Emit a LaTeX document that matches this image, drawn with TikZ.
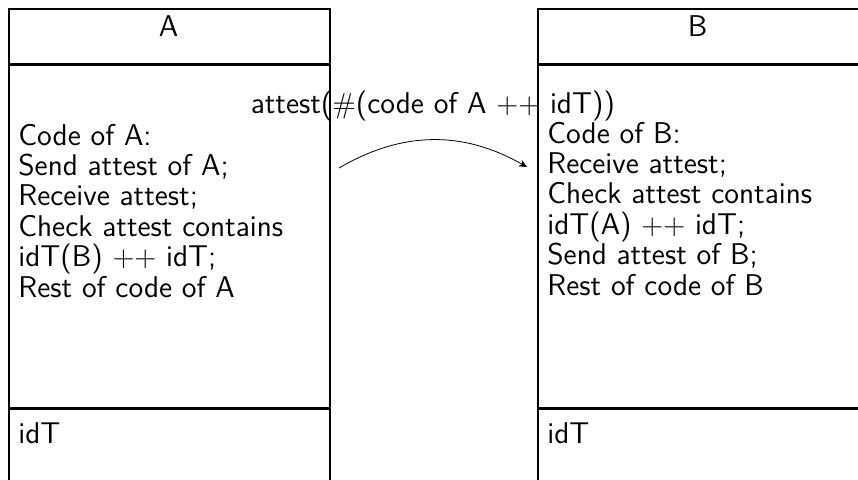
\documentclass[tikz,border=0pt]{standalone}
\usetikzlibrary{positioning,arrows.meta}

\begin{document}
\begin{tikzpicture}[x=0.5pt,y=-0.5pt,
  part/.style={draw,line width=0.8pt,minimum width=160.5pt,inner sep=0pt},
  code/.style={font=\fontsize{15}{15.2}\selectfont\sffamily,align=left,inner sep=0pt,anchor=base west}]
  \useasboundingbox (0,0) rectangle (858,479);
  % party A
  \node[part,minimum height=27.5pt,anchor=north west] (headA) at (8,8) {};
  \node[part,minimum height=171pt,below=0pt of headA] (bodyA) {};
  \node[part,minimum height=50pt,below=0pt of bodyA] (footA) {};
  \node[code,anchor=base] (nameA) at (168.5,36) {A};
  \node[code] (codeA) at (18,297) {Code of A:\\Send attest of A;\\Receive attest;\\Check attest contains\\idT(B) $++$ idT;\\Rest of code of A};
  \node[code] (stateA) at (18,443) {idT};
  % party B
  \node[part,minimum height=27.5pt,anchor=north west] (headB) at (537,8) {};
  \node[part,minimum height=171pt,below=0pt of headB] (bodyB) {};
  \node[part,minimum height=50pt,below=0pt of bodyB] (footB) {};
  \node[code,anchor=base] (nameB) at (697.5,36) {B};
  \node[code] (codeB) at (547,295) {Code of B:\\Receive attest;\\Check attest contains\\idT(A) $++$ idT;\\Send attest of B;\\Rest of code of B};
  \node[code] (stateB) at (547,443) {idT};
  % message
  \coordinate (sendA) at (339,168);
  \coordinate (recvB) at (527,167);
  \draw[-{Stealth[length=4pt,width=3.6pt,inset=1.2pt]}] (sendA) to[bend left=30]
    node[code,anchor=south,above=9pt] (msg) {attest($\#$(code of A $++$ idT))} (recvB);
\end{tikzpicture}
\end{document}
